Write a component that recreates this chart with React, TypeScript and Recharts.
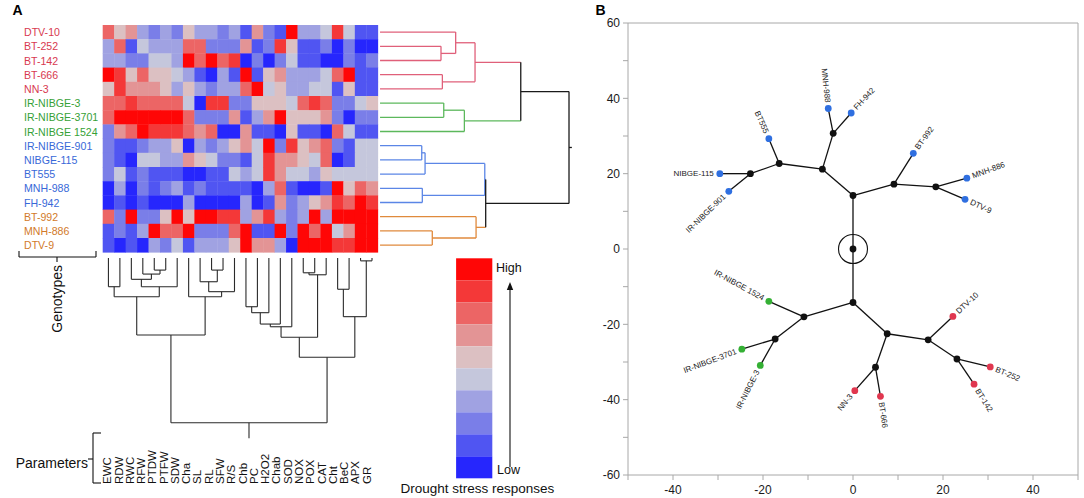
import React from 'react';
import { ScatterChart, Scatter, XAxis, YAxis, ReferenceLine } from 'recharts';

// ---------------- DATA ----------------
const genotypes = ['DTV-10', 'BT-252', 'BT-142', 'BT-666', 'NN-3', 'IR-NIBGE-3', 'IR-NIBGE-3701', 'IR-NIBGE 1524', 'IR-NIBGE-901', 'NIBGE-115', 'BT555', 'MNH-988', 'FH-942', 'BT-992', 'MNH-886', 'DTV-9'];
const genotypeCluster = ['red', 'red', 'red', 'red', 'red', 'green', 'green', 'green', 'blue', 'blue', 'blue', 'blue', 'blue', 'orange', 'orange', 'orange'];
const parameters = ['EWC', 'RDW', 'RWC', 'RFW', 'PTDW', 'PTFW', 'SDW', 'Cha', 'SL', 'RL', 'SFW', 'R/S', 'Chb', 'PC', 'H2O2', 'Chab', 'SOD', 'NOX', 'POX', 'CAT', 'Cht', 'BeC', 'APX', 'GR'];

// response level per cell (0 = lowest / blue ... 9 = highest / red)
const responseLevels: number[][] = [
  [7, 5, 6, 3, 2, 3, 2, 5, 3, 3, 2, 3, 1, 6, 2, 1, 9, 3, 3, 4, 8, 4, 1, 1],
  [3, 7, 1, 4, 3, 3, 3, 7, 7, 2, 2, 2, 6, 1, 2, 8, 5, 1, 1, 2, 0, 2, 0, 0],
  [3, 3, 2, 2, 4, 4, 3, 9, 7, 9, 7, 8, 0, 2, 0, 2, 4, 1, 1, 0, 0, 2, 1, 2],
  [9, 8, 5, 7, 5, 5, 4, 3, 1, 0, 3, 1, 9, 1, 5, 6, 3, 3, 3, 4, 7, 9, 1, 1],
  [5, 8, 6, 6, 6, 5, 3, 5, 3, 2, 3, 3, 7, 9, 4, 5, 3, 3, 4, 4, 1, 5, 1, 1],
  [7, 7, 8, 7, 7, 7, 7, 4, 0, 8, 8, 2, 2, 5, 5, 5, 4, 7, 8, 7, 2, 2, 4, 5],
  [7, 9, 9, 9, 9, 9, 9, 7, 2, 2, 2, 6, 1, 3, 6, 9, 5, 5, 5, 6, 2, 0, 2, 2],
  [2, 6, 7, 9, 8, 8, 8, 7, 6, 7, 0, 0, 6, 1, 1, 0, 5, 1, 1, 0, 7, 4, 1, 1],
  [2, 1, 1, 2, 3, 3, 5, 0, 3, 2, 3, 5, 6, 4, 9, 2, 8, 5, 6, 7, 2, 1, 4, 4],
  [2, 1, 0, 4, 4, 3, 3, 6, 5, 4, 2, 2, 1, 4, 8, 6, 6, 5, 4, 7, 0, 1, 4, 4],
  [2, 4, 1, 2, 1, 1, 1, 0, 0, 1, 1, 4, 3, 4, 8, 6, 4, 4, 3, 5, 4, 4, 4, 4],
  [0, 3, 0, 2, 1, 2, 3, 1, 2, 1, 1, 1, 1, 0, 3, 7, 1, 0, 0, 1, 9, 5, 7, 6],
  [0, 1, 0, 1, 0, 0, 0, 3, 0, 0, 0, 0, 3, 0, 1, 6, 2, 3, 5, 6, 8, 7, 9, 8],
  [7, 2, 9, 2, 2, 5, 9, 5, 9, 9, 8, 8, 3, 6, 8, 3, 2, 3, 9, 3, 9, 9, 9, 9],
  [1, 2, 1, 3, 9, 7, 7, 9, 2, 2, 2, 7, 9, 1, 1, 9, 2, 9, 7, 9, 4, 6, 9, 9],
  [1, 0, 1, 0, 3, 2, 4, 1, 3, 3, 3, 5, 9, 6, 6, 3, 0, 9, 9, 9, 8, 8, 9, 9],
];

// row (genotype) linkage: [childA, childB, distance, cluster colour]
const rowLinkage: [number, number, number, string][] = [
  [1, 2, 5.32, 'red'],
  [0, 16, 6.6, 'red'],
  [3, 4, 5.44, 'red'],
  [17, 18, 8.29, 'red'],
  [5, 6, 5.56, 'green'],
  [20, 7, 7.36, 'green'],
  [19, 21, 12.28, 'black'],
  [8, 9, 3.64, 'blue'],
  [23, 10, 3.93, 'blue'],
  [11, 12, 3.69, 'blue'],
  [24, 25, 9.14, 'blue'],
  [14, 15, 4.56, 'orange'],
  [13, 27, 8.38, 'orange'],
  [26, 28, 9.22, 'black'],
  [22, 29, 16.49, 'black'],
];

// column (parameter) linkage: [childA, childB, distance]
const colLinkage: [number, number, number][] = [
  [0, 1, 2.02], [4, 5, 0.85], [3, 25, 1.13], [2, 26, 1.5], [27, 6, 2.02], [24, 28, 2.73],
  [9, 10, 0.85], [8, 30, 1.67], [31, 11, 2.37], [7, 32, 2.73], [29, 33, 5.42],
  [12, 13, 3.43], [35, 14, 3.85], [36, 15, 4.65], [37, 16, 4.84],
  [17, 18, 1.04], [39, 19, 1.18], [38, 40, 5.58],
  [20, 21, 2.2], [22, 23, 0.2], [42, 43, 4.13], [41, 44, 6.99], [34, 45, 11.6],
];

const legendLevels = [9, 8, 7, 6, 5, 4, 3, 2, 1, 0];

// panel B tree
const treeNodes = [
  { id: 'U0', x: 0, y: 14.2 }, { id: 'U1', x: -6.8, y: 21.2 }, { id: 'U2', x: -4.4, y: 30.7 },
  { id: 'U3', x: -16.4, y: 22.7 }, { id: 'U4', x: -22.8, y: 20.0 }, { id: 'U5', x: 9.1, y: 17.2 },
  { id: 'U6', x: 18.4, y: 16.5 },
  { id: 'L0', x: 0, y: -14.2 }, { id: 'L1', x: -10.9, y: -18.0 }, { id: 'L2', x: -17.3, y: -23.9 },
  { id: 'L3', x: 7.6, y: -22.5 }, { id: 'L4', x: 5.0, y: -31.4 }, { id: 'L5', x: 16.7, y: -24.1 },
  { id: 'L6', x: 23.1, y: -29.2 },
];
const treeRoot = [{ id: 'R', x: 0, y: 0 }];
const treeLeaves = [
  { name: 'MNH-988', x: -5.5, y: 37.3, cluster: 'blue', parent: 'U2' },
  { name: 'FH-942', x: -0.4, y: 36.1, cluster: 'blue', parent: 'U2' },
  { name: 'BT555', x: -18.7, y: 29.3, cluster: 'blue', parent: 'U3' },
  { name: 'NIBGE-115', x: -29.6, y: 20.0, cluster: 'blue', parent: 'U4' },
  { name: 'IR-NIBGE-901', x: -27.6, y: 15.3, cluster: 'blue', parent: 'U4' },
  { name: 'BT-992', x: 13.4, y: 25.4, cluster: 'blue', parent: 'U5' },
  { name: 'MNH-886', x: 25.3, y: 18.8, cluster: 'blue', parent: 'U6' },
  { name: 'DTV-9', x: 24.9, y: 13.2, cluster: 'blue', parent: 'U6' },
  { name: 'IR-NIBGE 1524', x: -18.7, y: -13.9, cluster: 'green', parent: 'L1' },
  { name: 'IR-NIBGE-3701', x: -24.7, y: -26.6, cluster: 'green', parent: 'L2' },
  { name: 'IR-NIBGE-3', x: -20.6, y: -30.9, cluster: 'green', parent: 'L2' },
  { name: 'NN-3', x: 0.4, y: -37.6, cluster: 'red', parent: 'L4' },
  { name: 'BT-666', x: 6.1, y: -39.1, cluster: 'red', parent: 'L4' },
  { name: 'DTV-10', x: 22.2, y: -17.9, cluster: 'red', parent: 'L5' },
  { name: 'BT-252', x: 30.5, y: -31.3, cluster: 'red', parent: 'L6' },
  { name: 'BT-142', x: 26.9, y: -35.9, cluster: 'red', parent: 'L6' },
];
const treeLinks: [string, string][] = [
  ['R', 'U0'], ['U0', 'U1'], ['U0', 'U5'], ['U1', 'U2'], ['U1', 'U3'], ['U3', 'U4'], ['U5', 'U6'],
  ['R', 'L0'], ['L0', 'L1'], ['L0', 'L3'], ['L1', 'L2'], ['L3', 'L4'], ['L3', 'L5'], ['L5', 'L6'],
];
const xTicksB = [-50, -40, -30, -20, -10, 0, 10, 20, 30, 40, 50];
const yTicksB = [-60, -50, -40, -30, -20, -10, 0, 10, 20, 30, 40, 50, 60];

// ---------------- STYLE ----------------
const FONT = 'Liberation Sans, Arial, sans-serif';
const LEVEL_COLORS = ['#2626fd', '#5055f2', '#7a7ee8', '#a0a2e2', '#c5c7dc', '#dcc0c2', '#e39495', '#ec6565', '#f43838', '#ff0606'];
const CLUSTER_TEXT: Record<string, string> = { red: '#d8394f', green: '#36a136', blue: '#3868d8', orange: '#d27a2a' };
const CLUSTER_LINE: Record<string, string> = { red: '#e0607a', green: '#5cb85c', blue: '#5b86e6', orange: '#e08a3c', black: '#1a1a1a' };
const LEAF_DOT: Record<string, string> = { red: '#e0374f', green: '#34b034', blue: '#2f6fe0' };
const GRAY = '#a8a8a8';
const leafLabelStyle: Record<string, [number, 'start' | 'end']> = {
  'MNH-988': [84, 'end'], 'FH-942': [-47, 'start'], 'BT555': [66, 'end'], 'NIBGE-115': [0, 'end'],
  'IR-NIBGE-901': [-44, 'end'], 'BT-992': [-54, 'start'], 'MNH-886': [-20, 'start'], 'DTV-9': [25, 'start'],
  'IR-NIBGE 1524': [28.6, 'end'], 'IR-NIBGE-3701': [-20.6, 'end'], 'IR-NIBGE-3': [-63, 'end'],
  'NN-3': [-51, 'end'], 'BT-666': [82, 'start'], 'DTV-10': [-42.6, 'start'], 'BT-252': [22.6, 'start'],
  'BT-142': [58.5, 'start'],
};

// ---------------- LAYOUT (panel A) ----------------
const A_W = 620, A_H = 498;
const HM_LEFT = 102.7, HM_TOP = 25, CELL_W = 11.46, CELL_H = 14.2;
const ux = (px: number) => (px - HM_LEFT) / CELL_W;
const uy = (py: number) => (py - HM_TOP) / CELL_H;
const ROW_BASE = 24.2;
const COL_BASE = 16.41;
const LABEL_STEP = 0.984;

type Seg = { h0: number; h1: number; p0: number; p1: number; color: string };
function dendroSegments(n: number, links: any[], stub: number): Seg[] {
  const pos: number[] = [], h: number[] = [], col: string[] = [], parent: number[] = [];
  for (let i = 0; i < n; i++) { pos[i] = i + 0.5; h[i] = 0; }
  links.forEach((l, k) => {
    const id = n + k;
    pos[id] = (pos[l[0]] + pos[l[1]]) / 2; h[id] = l[2]; col[id] = l[3] || 'black';
    parent[l[0]] = id; parent[l[1]] = id;
  });
  const segs: Seg[] = [];
  for (let id = 0; id < n + links.length; id++) {
    const p = parent[id];
    if (p === undefined) { segs.push({ h0: h[id], h1: h[id] + stub, p0: pos[id], p1: pos[id], color: col[id] }); continue; }
    segs.push({ h0: h[id], h1: h[p], p0: pos[id], p1: pos[id], color: col[id] || col[p] });
  }
  links.forEach((l) => segs.push({ h0: l[2], h1: l[2], p0: pos[l[0]], p1: pos[l[1]], color: l[3] || 'black' }));
  return segs;
}

const heatData = responseLevels.flatMap((row, r) => row.map((v, c) => ({ x: c + 0.5, y: r + 0.5, level: v })));
const rowSegs = dendroSegments(genotypes.length, rowLinkage, 0.25);
const colSegs = dendroSegments(parameters.length, colLinkage, 1.1);

const rowLabelData = genotypes.map((g, i) => ({ x: ux(24), y: i + 0.5, text: g, color: CLUSTER_TEXT[genotypeCluster[i]], size: 10.6, anchor: 'start' }));
const colLabelData = parameters.map((p, i) => ({ x: 0.4 + i * LABEL_STEP, y: uy(484), text: p, color: '#111', size: 11.5, anchor: 'start', angle: -90 }));
const annotData = [
  { x: ux(17.5), y: uy(9.5), text: 'A', color: '#000', size: 14, anchor: 'middle', weight: 700 },
  { x: ux(600.5), y: uy(9.5), text: 'B', color: '#000', size: 14, anchor: 'middle', weight: 700 },
  { x: ux(57), y: uy(265), text: 'Genotypes', color: '#111', size: 14, anchor: 'end', angle: -90 },
  { x: ux(88), y: uy(463), text: 'Parameters', color: '#111', size: 14, anchor: 'end' },
  { x: ux(496), y: uy(268), text: 'High', color: '#111', size: 12.5, anchor: 'start' },
  { x: ux(497), y: uy(470), text: 'Low', color: '#111', size: 12.5, anchor: 'start' },
  { x: ux(400.5), y: uy(488), text: 'Drought stress responses', color: '#111', size: 13.5, anchor: 'start' },
];
const legendData = legendLevels.map((lv, k) => ({ x: ux(474.2), y: uy(258.3 + 11 + 22 * k), level: lv }));
const bracketSegs = [
  [19, 257, 96, 257], [19, 251, 19, 257], [96, 251, 96, 257], [57, 257, 57, 262],
  [93, 433, 93, 483], [93, 433, 101, 433], [93, 483, 101, 483], [88, 459, 93, 459],
  [510, 467, 510, 288],
];

// ---------------- SHAPES ----------------
const HeatCell = (p: any) => (
  <rect x={p.cx - CELL_W / 2} y={p.cy - CELL_H / 2} width={CELL_W + 0.4} height={CELL_H + 0.4} fill={LEVEL_COLORS[p.payload.level]} />
);
const LegendCell = (p: any) => (
  <rect x={p.cx - 18.1} y={p.cy - 11} width={36.2} height={22} fill={LEVEL_COLORS[p.payload.level]} />
);
const TextMark = (p: any) => {
  const d = p.payload;
  return (
    <text x={p.cx} y={p.cy} fill={d.color} fontSize={d.size} fontWeight={d.weight || 400} textAnchor={d.anchor}
      dominantBaseline="central" fontFamily={FONT}
      transform={d.angle ? `rotate(${d.angle} ${p.cx} ${p.cy})` : undefined}>{d.text}</text>
  );
};
const ArrowHead = (p: any) => <path d={`M${p.cx},${p.cy} l-3.2,8 l6.4,0 z`} fill="#111" />;
const NodeDot = (p: any) => <circle cx={p.cx} cy={p.cy} r={3.4} fill="#111" />;
const RootMark = (p: any) => (
  <g>
    <circle cx={p.cx} cy={p.cy} r={14.5} fill="none" stroke="#111" strokeWidth={1.1} />
    <circle cx={p.cx} cy={p.cy} r={3.4} fill="#111" />
  </g>
);
const LeafMark = (p: any) => {
  const d = p.payload;
  const [ang, anchor] = leafLabelStyle[d.name];
  const r = (ang * Math.PI) / 180;
  const s = anchor === 'start' ? 1 : -1;
  const tx = p.cx + s * 6 * Math.cos(r);
  const ty = p.cy + s * 6 * Math.sin(r);
  return (
    <g>
      <circle cx={p.cx} cy={p.cy} r={3.4} fill={LEAF_DOT[d.cluster]} />
      <text x={tx} y={ty} fontSize={8} textAnchor={anchor} dominantBaseline="central" fontFamily={FONT}
        fill="#222" transform={`rotate(${ang} ${tx} ${ty})`}>{d.name}</text>
    </g>
  );
};

const allTreePoints: Record<string, { x: number; y: number }> = {};
[...treeRoot, ...treeNodes].forEach((n) => { allTreePoints[n.id] = n; });
const treeEdges = [
  ...treeLinks.map(([a, b]) => [allTreePoints[a], allTreePoints[b]]),
  ...treeLeaves.map((l) => [allTreePoints[l.parent], l]),
];

const fmtX = (v: number) => (v % 20 === 0 && Math.abs(v) < 50 ? String(v) : '');
const fmtY = (v: number) => (v % 20 === 0 ? String(v) : '');

export default function App() {
  return (
    <div style={{ position: 'absolute', left: 0, top: 0, width: 1084, height: 498, background: '#fff' }}>
      <div style={{ position: 'absolute', left: 0, top: 0 }}>
        <ScatterChart width={A_W} height={A_H} margin={{ top: 0, right: 0, bottom: 0, left: 0 }}>
          <XAxis type="number" dataKey="x" domain={[ux(0), ux(A_W)]} hide allowDataOverflow />
          <YAxis type="number" dataKey="y" domain={[uy(0), uy(A_H)]} hide reversed allowDataOverflow />
          <Scatter data={heatData} shape={HeatCell} isAnimationActive={false} />
          <Scatter data={legendData} shape={LegendCell} isAnimationActive={false} />
          {rowSegs.map((s, i) => (
            <ReferenceLine key={'r' + i} segment={[{ x: ROW_BASE + s.h0, y: s.p0 }, { x: ROW_BASE + s.h1, y: s.p1 }]}
              stroke={CLUSTER_LINE[s.color]} strokeWidth={1.3} ifOverflow="visible" />
          ))}
          {colSegs.map((s, i) => (
            <ReferenceLine key={'c' + i} segment={[{ x: s.p0, y: COL_BASE + s.h0 }, { x: s.p1, y: COL_BASE + s.h1 }]}
              stroke="#2a2a2a" strokeWidth={1.1} ifOverflow="visible" />
          ))}
          {bracketSegs.map((b, i) => (
            <ReferenceLine key={'b' + i} segment={[{ x: ux(b[0]), y: uy(b[1]) }, { x: ux(b[2]), y: uy(b[3]) }]}
              stroke="#111" strokeWidth={1.1} ifOverflow="visible" />
          ))}
          <Scatter data={[{ x: ux(510), y: uy(282) }]} shape={ArrowHead} isAnimationActive={false} />
          <Scatter data={rowLabelData} shape={TextMark} isAnimationActive={false} />
          <Scatter data={colLabelData} shape={TextMark} isAnimationActive={false} />
          <Scatter data={annotData} shape={TextMark} isAnimationActive={false} />
        </ScatterChart>
      </div>
      <div style={{ position: 'absolute', left: 590, top: 0 }}>
        <ScatterChart width={494} height={498} margin={{ top: 23, right: 6, bottom: 0, left: 0 }}>
          <XAxis type="number" dataKey="x" domain={[-50, 50]} ticks={xTicksB} interval={0} tickFormatter={fmtX}
            axisLine={{ stroke: GRAY }} tickLine={{ stroke: GRAY }} tickSize={5} tickMargin={5}
            tick={{ fontSize: 12, fill: '#1a1a1a', fontFamily: FONT }} height={23} allowDataOverflow />
          <YAxis type="number" dataKey="y" domain={[-60, 60]} ticks={yTicksB} interval={0} tickFormatter={fmtY}
            axisLine={{ stroke: GRAY }} tickLine={{ stroke: GRAY }} tickSize={5} tickMargin={3}
            tick={{ fontSize: 12, fill: '#1a1a1a', fontFamily: FONT }} width={38} allowDataOverflow />
          <ReferenceLine y={60} stroke={GRAY} />
          <ReferenceLine x={50} stroke={GRAY} />
          {treeEdges.map((e, i) => (
            <ReferenceLine key={'t' + i} segment={[{ x: e[0].x, y: e[0].y }, { x: e[1].x, y: e[1].y }]}
              stroke="#111" strokeWidth={1.3} />
          ))}
          <Scatter data={treeRoot} shape={RootMark} isAnimationActive={false} />
          <Scatter data={treeNodes} shape={NodeDot} isAnimationActive={false} />
          <Scatter data={treeLeaves} shape={LeafMark} isAnimationActive={false} />
        </ScatterChart>
      </div>
    </div>
  );
}
